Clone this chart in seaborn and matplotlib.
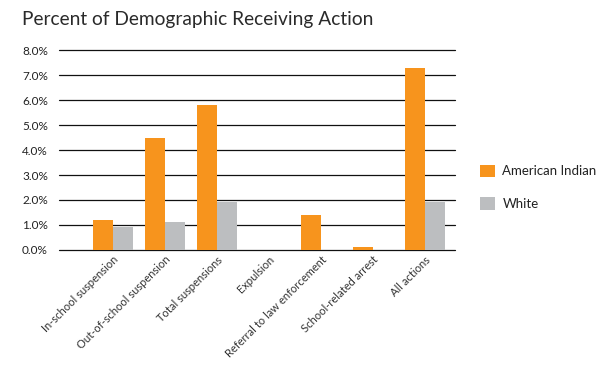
import matplotlib
matplotlib.use("Agg")
import matplotlib.pyplot as plt
import seaborn as sns
import pandas as pd
from matplotlib.patches import Patch

categories = ["In-school suspension", "Out-of-school suspension", "Total suspensions",
              "Expulsion", "Referral to law enforcement", "School-related arrest", "All actions"]
american_indian = [1.2, 4.5, 5.8, 0.0, 1.4, 0.1, 7.3]
white = [0.9, 1.1, 1.9, 0.0, 0.0, 0.0, 1.9]
series = ["American Indian", "White"]
colors = ["#F7941D", "#BCBEC0"]
yticks = [0, 1, 2, 3, 4, 5, 6, 7, 8]

df = pd.DataFrame({
    "category": categories * 2,
    "value": american_indian + white,
    "group": [series[0]] * len(categories) + [series[1]] * len(categories),
})

sns.set_theme(style="white")
plt.rcParams['font.family'] = ['Lato', 'DejaVu Sans']

fig = plt.figure(figsize=(6.08, 3.68), dpi=100)
ax = fig.add_axes([0.097, 0.3207, 0.651, 0.5433])

sns.barplot(data=df, x="category", y="value", hue="group", order=categories,
            hue_order=series, palette=colors, width=0.77, saturation=1,
            linewidth=0, ax=ax, legend=False, zorder=3)

ax.set_ylim(0, 8)
ax.set_xlim(-1.04, 6.58)
ax.set_yticks(yticks)
ax.set_yticklabels([f"{v:.1f}%" for v in yticks], fontsize=8.5, color="#222222")
for v in yticks:
    ax.axhline(v, color="#111111", linewidth=0.9, zorder=1, clip_on=False)
for s in ax.spines.values():
    s.set_visible(False)
ax.tick_params(axis="y", length=0, pad=8)
ax.tick_params(axis="x", length=0, pad=3)
ax.set_xticks(range(len(categories)))
ax.set_xticklabels(categories, rotation=45, ha="right", rotation_mode="anchor",
                   fontsize=8, color="#333333")
ax.set_xlabel("")
ax.set_ylabel("")

handles = [Patch(facecolor=c, edgecolor="none") for c in colors]
fig.legend(handles, series, loc="upper left", bbox_to_anchor=(0.77, 0.585),
           frameon=False, fontsize=9.5, handlelength=1.1, handleheight=1.1,
           handletextpad=0.6, labelspacing=1.5, labelcolor="#222222")

fig.text(0.036, 0.97, "Percent of Demographic Receiving Action", fontsize=13.8,
         color="#2a2a2a", ha="left", va="top")

fig.savefig("out.png", dpi=100)
